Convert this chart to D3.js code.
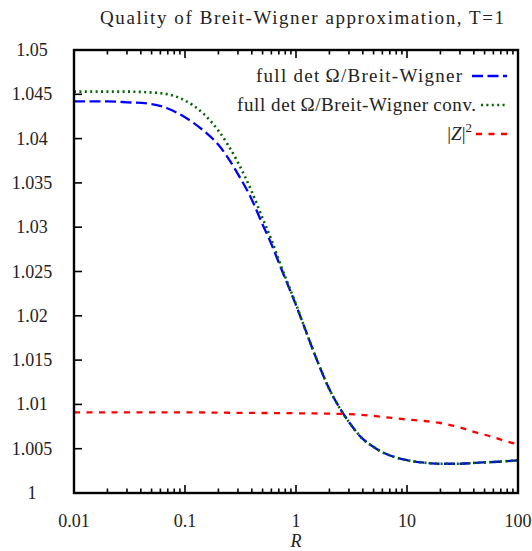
<!DOCTYPE html>
<html><head><meta charset="utf-8">
<script src="https://cdn.jsdelivr.net/npm/d3@7"></script>
<style>body{margin:0;background:#fff}svg{display:block}svg text{font-family:"Liberation Serif","Times New Roman",serif}</style>
</head><body>
<script>
const Rvals = [0.01,0.02,0.03,0.05,0.07,0.1,0.15,0.2,0.3,0.4,0.5,0.6,0.7,0.8,1,1.2,1.5,2,2.5,3,4,5,6,8,10,15,20,30,40,60,80,100];
const fullDet = [1.0442,1.0442,1.0441,1.0439,1.0434,1.0424,1.0408,1.0393,1.0360,1.0331,1.0303,1.0281,1.0260,1.0242,1.0212,1.0186,1.0154,1.0117,1.0095,1.0080,1.0061,1.0052,1.0046,1.0040,1.0037,1.0034,1.0033,1.0033,1.0034,1.0035,1.0036,1.0037];
const fullDetConv = [1.0453,1.0453,1.0453,1.0452,1.0450,1.0443,1.0427,1.0409,1.0373,1.0340,1.0310,1.0286,1.0263,1.0244,1.0213,1.0186,1.0154,1.0117,1.0095,1.0080,1.0061,1.0052,1.0046,1.0040,1.0037,1.0034,1.0033,1.0033,1.0034,1.0035,1.0036,1.0037];
const zR = [0.01,0.1,0.3,1,2,3,5,7,10,15,20,30,40,60,80,100];
const zSq = [1.0091,1.0091,1.00905,1.0090,1.00895,1.0089,1.0087,1.0085,1.0083,1.0081,1.0079,1.0074,1.0069,1.0063,1.0058,1.0055];
const xTicks = [0.01,0.1,1,10,100];
const xTickLabels = ["0.01","0.1","1","10","100"];
const yTicks = [1,1.005,1.01,1.015,1.02,1.025,1.03,1.035,1.04,1.045,1.05];
const yTickLabels = ["1","1.005","1.01","1.015","1.02","1.025","1.03","1.035","1.04","1.045","1.05"];

const W=532,H=551;
const L=74,Rr=518,T=50,B=493;
const svg=d3.select("body").append("svg").attr("width",W).attr("height",H);
const x=d3.scaleLog().domain([0.01,100]).range([L,Rr]);
const y=d3.scaleLinear().domain([1,1.05]).range([B,T]);

svg.append("clipPath").attr("id","c").append("rect").attr("x",L).attr("y",T).attr("width",Rr-L).attr("height",B-T);

const minor=[];
for(let d=-2;d<2;d++){for(let k=2;k<=9;k++)minor.push(k*Math.pow(10,d));}
const tk=svg.append("g").attr("stroke","#000").attr("stroke-width",1.6);
minor.forEach(v=>{
  tk.append("line").attr("x1",x(v)).attr("x2",x(v)).attr("y1",B).attr("y2",B-4.5);
  tk.append("line").attr("x1",x(v)).attr("x2",x(v)).attr("y1",T).attr("y2",T+4.5);
});
xTicks.forEach(v=>{
  tk.append("line").attr("x1",x(v)).attr("x2",x(v)).attr("y1",B).attr("y2",B-8);
  tk.append("line").attr("x1",x(v)).attr("x2",x(v)).attr("y1",T).attr("y2",T+8);
});
yTicks.forEach(v=>{
  tk.append("line").attr("x1",L).attr("x2",L+8).attr("y1",y(v)).attr("y2",y(v));
});

const lab=svg.append("g").attr("font-size",18).attr("fill","#222");
xTicks.forEach((v,i)=>{
  lab.append("text").attr("x",x(v)).attr("y",527).attr("text-anchor","middle").text(xTickLabels[i]);
});
yTicks.forEach((v,i)=>{
  lab.append("text").attr("x",32).attr("y",y(v)+6).attr("text-anchor","middle").text(yTickLabels[i]);
});
lab.append("text").attr("x",296).attr("y",547).attr("text-anchor","middle").attr("font-style","italic").text("R");
lab.append("text").attr("x",100).attr("y",24).attr("font-size",19)
  .attr("textLength",404).attr("lengthAdjust","spacing")
  .text("Quality of Breit-Wigner approximation, T=1");

const line=d3.line().x(d=>x(d[0])).y(d=>y(d[1])).curve(d3.curveMonotoneX);
const g=svg.append("g").attr("clip-path","url(#c)").attr("fill","none").attr("stroke-width",2.3);
g.append("path").attr("d",line(Rvals.map((r,i)=>[r,fullDet[i]]))).attr("stroke","#0000ff").attr("stroke-dasharray","11,4.5");
g.append("path").attr("d",line(Rvals.map((r,i)=>[r,fullDetConv[i]]))).attr("stroke","#006400").attr("stroke-width",2.6).attr("stroke-dasharray","2,3.4");
g.append("path").attr("d",line(zR.map((r,i)=>[r,zSq[i]]))).attr("stroke","#ff0000").attr("stroke-dasharray","6,6.5");

const lg=svg.append("g").attr("font-size",19).attr("fill","#222");
const rows=[{yy:76,stroke:"#0000ff",dash:"11,4.5",x1:472,w:2.3},{yy:105,stroke:"#006400",dash:"2,3.4",x1:481,w:2.6},{yy:134,stroke:"#ff0000",dash:"6,6.5",x1:476,w:2.3}];
rows.forEach(r=>{
  svg.append("line").attr("x1",r.x1).attr("x2",507).attr("y1",r.yy).attr("y2",r.yy).attr("stroke",r.stroke).attr("stroke-width",r.w).attr("stroke-dasharray",r.dash);
});
lg.append("text").attr("x",256).attr("y",76+6).attr("textLength",206).attr("lengthAdjust","spacing")
  .text("full det\u2009\u03A9/Breit-Wigner");
lg.append("text").attr("x",237).attr("y",105+6).attr("textLength",239).attr("lengthAdjust","spacing")
  .text("full det\u2009\u03A9/Breit-Wigner\u2009conv.");
let t3=lg.append("text").attr("x",472).attr("y",134+6).attr("text-anchor","end");
t3.append("tspan").text("|");
t3.append("tspan").attr("font-style","italic").text("Z");
t3.append("tspan").text("|");
t3.append("tspan").attr("font-size",13).attr("dy",-8).text("2");

svg.append("rect").attr("x",L).attr("y",T).attr("width",Rr-L).attr("height",B-T).attr("fill","none").attr("stroke","#000").attr("stroke-width",2.4);
</script>
</body></html>
